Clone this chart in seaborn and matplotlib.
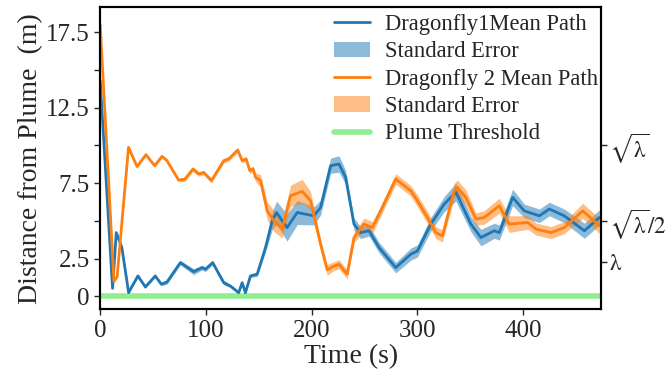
import numpy as np
import pandas as pd
import seaborn as sns
import matplotlib.pyplot as plt

# dragonfly 1 (blue)
t1 = [0, 11.7, 15.2, 20.5, 26.9, 29.4, 35.7, 42.7, 52.1, 57.8,
      63.2, 75.8, 88.4, 96.4, 99.5, 106.4, 116.9, 123.2, 131, 134.3,
      137.4, 142.2, 148.5, 156.4, 162.7, 166.8, 176.8, 186.4, 202.2, 208.5,
      218, 225.9, 232.2, 240.1, 246.4, 254.3, 263.8, 279.6, 293.8, 300.1,
      312.8, 325.4, 336.5, 350.7, 360.2, 372.8, 377.6, 390.2, 401.2, 415.5,
      424.9, 439.1, 458.1, 472.3]
mean1 = [14.3, 0.53, 4.22, 3.23, 0.24, 0.57, 1.35, 0.62, 1.35, 0.80,
         0.95, 2.23, 1.63, 1.90, 1.79, 2.23, 0.90, 0.68, 0.24, 0.90,
         0.24, 1.35, 1.46, 3.23, 5.00, 5.55, 4.55, 5.55, 5.33, 5.88,
         8.65, 8.76, 7.88, 4.78, 4.22, 4.34, 3.23, 1.90, 2.79, 3.00,
         4.78, 6.10, 6.90, 4.78, 3.89, 4.34, 4.22, 6.55, 5.66, 5.33,
         5.78, 5.33, 4.34, 5.22]
se1 = [0.1, 0.1, 0.1, 0.1, 0.1, 0.1, 0.1, 0.1, 0.1, 0.1,
       0.15, 0.15, 0.2, 0.15, 0.15, 0.15, 0.15, 0.1, 0.1, 0.1,
       0.1, 0.1, 0.15, 0.3, 0.6, 0.75, 0.9, 0.8, 0.6, 0.5,
       0.5, 0.55, 0.45, 0.4, 0.4, 0.35, 0.35, 0.35, 0.4, 0.4,
       0.45, 0.5, 0.6, 0.5, 0.55, 0.5, 0.5, 0.55, 0.45, 0.45,
       0.45, 0.45, 0.5, 0.5]

# dragonfly 2 (orange)
t2 = [0, 13, 16, 26.8, 34.8, 43.3, 51.5, 58.5, 63.2, 74.2,
      80, 87.8, 93.2, 98, 105.2, 116.9, 121.6, 130.1, 134.3, 138.1,
      141.5, 144.7, 146.9, 151.7, 158, 164.3, 172.2, 180.1, 191.1, 199,
      208.5, 214.8, 221.1, 225.9, 233.7, 240.1, 249.6, 257.5, 265.4, 279.6,
      293.8, 300.1, 309.6, 317.5, 323.8, 334.9, 338, 345.9, 355.5, 363.3,
      377.6, 387, 404.4, 412.3, 426.5, 439.1, 456.5, 472.3]
mean2 = [18.0, 1.0, 1.3, 9.87, 8.6, 9.38, 8.65, 9.27, 8.98, 7.7,
         7.75, 8.43, 8.1, 8.2, 7.66, 8.98, 9.1, 9.69, 8.98, 9.1,
         8.32, 8.43, 7.88, 7.66, 5.66, 5.0, 4.45, 6.66, 6.95, 6.33,
         3.45, 1.75, 2.0, 2.12, 1.46, 3.89, 4.78, 4.55, 5.66, 7.77,
         6.99, 6.33, 5.22, 4.22, 4.0, 6.99, 7.21, 6.55, 5.11, 5.22,
         6.0, 4.78, 4.89, 4.45, 4.22, 4.55, 5.66, 4.67]
se2 = [0.1, 0.1, 0.1, 0.1, 0.1, 0.1, 0.1, 0.1, 0.1, 0.1,
       0.15, 0.15, 0.15, 0.15, 0.15, 0.15, 0.15, 0.15, 0.15, 0.15,
       0.2, 0.2, 0.3, 0.4, 0.6, 0.7, 0.6, 0.7, 0.8, 0.6,
       0.35, 0.35, 0.3, 0.3, 0.3, 0.35, 0.4, 0.4, 0.35, 0.35,
       0.35, 0.4, 0.4, 0.4, 0.4, 0.5, 0.5, 0.5, 0.4, 0.45,
       0.5, 0.55, 0.45, 0.4, 0.4, 0.4, 0.5, 0.5]

threshold = 0
yticks = [0, 2.5, 5, 7.5, 10, 12.5, 15, 17.5]
ylabels = ['0', '2.5', '', '7.5', '', '12.5', '', '17.5']
rticks = [10, 5, 2.3]
rlabels = [r'$\sqrt{\mathrm{\lambda}}$', r'$\sqrt{\mathrm{\lambda}}\mathrm{/2}$', r'$\mathrm{\lambda}$']

sns.set_style('ticks')
plt.rcParams['font.family'] = ['Liberation Serif', 'DejaVu Serif']
plt.rcParams['mathtext.fontset'] = 'stix'

df1 = pd.DataFrame({'t': t1, 'm': mean1, 'se': se1})
df2 = pd.DataFrame({'t': t2, 'm': mean2, 'se': se2})

fig, ax = plt.subplots(figsize=(6.68, 3.77), dpi=100)
fig.subplots_adjust(left=0.15, right=0.9, top=0.981, bottom=0.18)

blue = '#1f77b4'
orange = '#ff7f0e'
sns.lineplot(data=df1, x='t', y='m', color=blue, lw=2, ax=ax, zorder=3)
f1 = ax.fill_between(df1.t, df1.m - df1.se, df1.m + df1.se, color=blue, alpha=0.5, lw=0)
sns.lineplot(data=df2, x='t', y='m', color=orange, lw=2, ax=ax, zorder=3)
f2 = ax.fill_between(df2.t, df2.m - df2.se, df2.m + df2.se, color=orange, alpha=0.5, lw=0)
thr = ax.axhline(threshold, color='#90ee90', lw=4, zorder=2)

l1, l2 = ax.get_lines()[0], ax.get_lines()[1]
ax.legend([l1, f1, l2, f2, thr],
          ['Dragonfly1Mean Path', 'Standard Error', 'Dragonfly 2 Mean Path',
           'Standard Error', 'Plume Threshold'],
          loc='upper right', frameon=False, fontsize=16.3, handlelength=1.6,
          labelspacing=0.28, borderaxespad=0, handletextpad=0.65,
          bbox_to_anchor=(1.012, 1.007))

ax.set_xlim(0, 474)
ax.set_ylim(-0.85, 19.15)
ax.set_yticks(yticks)
ax.set_yticklabels(ylabels)
ax.set_xticks([0, 100, 200, 300, 400])
ax.set_xlabel('Time (s)', fontsize=20, labelpad=2)
ax.set_ylabel('Distance from Plume  (m)', fontsize=20, labelpad=2)
ax.tick_params(labelsize=18, width=1, length=4)
for s in ax.spines.values():
    s.set_linewidth(1.5)
    s.set_color('black')

ax2 = ax.twinx()
ax2.set_ylim(ax.get_ylim())
ax2.set_yticks(rticks)
ax2.set_yticklabels(rlabels)
ax2.tick_params(labelsize=16.5, width=1, length=4, pad=1.5)
for s in ax2.spines.values():
    s.set_linewidth(1.5)
    s.set_color('black')

plt.savefig('out.png', dpi=100)
